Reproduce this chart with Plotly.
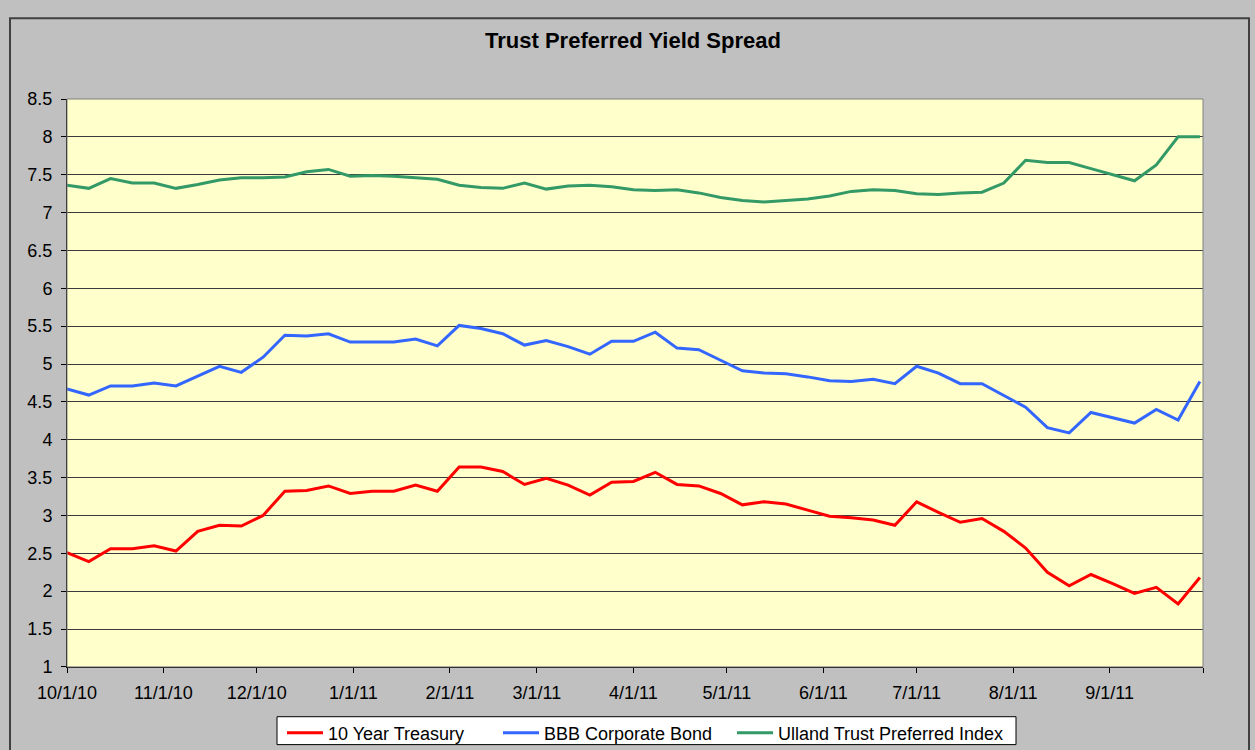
import pandas as pd
import plotly.graph_objects as go

dates = pd.date_range(start="2010-10-01", periods=53, freq="7D")

treasury = [2.51, 2.39, 2.56, 2.56, 2.60, 2.53, 2.79, 2.87, 2.86, 3.00,
            3.32, 3.33, 3.39, 3.29, 3.32, 3.32, 3.40, 3.32, 3.64, 3.64,
            3.58, 3.41, 3.49, 3.40, 3.27, 3.44, 3.45, 3.57, 3.41, 3.39,
            3.29, 3.14, 3.18, 3.15, 3.07, 2.99, 2.97, 2.94, 2.87, 3.18,
            3.04, 2.91, 2.96, 2.79, 2.57, 2.25, 2.07, 2.22, 2.10, 1.97,
            2.05, 1.83, 2.18]

bbb = [4.67, 4.59, 4.71, 4.71, 4.75, 4.71, 4.84, 4.97, 4.89, 5.09,
       5.38, 5.37, 5.40, 5.29, 5.29, 5.29, 5.33, 5.24, 5.51, 5.47,
       5.40, 5.25, 5.31, 5.23, 5.13, 5.30, 5.30, 5.42, 5.21, 5.19,
       5.05, 4.91, 4.88, 4.87, 4.83, 4.78, 4.77, 4.80, 4.74, 4.97,
       4.88, 4.74, 4.74, 4.59, 4.43, 4.16, 4.09, 4.36, 4.29, 4.22,
       4.40, 4.26, 4.77]

ulland = [7.36, 7.32, 7.45, 7.39, 7.39, 7.32, 7.37, 7.43, 7.46, 7.46,
          7.47, 7.54, 7.57, 7.48, 7.49, 7.48, 7.46, 7.44, 7.36, 7.33,
          7.32, 7.39, 7.31, 7.35, 7.36, 7.34, 7.30, 7.29, 7.30, 7.26,
          7.20, 7.16, 7.14, 7.16, 7.18, 7.22, 7.28, 7.30, 7.29, 7.25,
          7.24, 7.26, 7.27, 7.39, 7.69, 7.66, 7.66, 7.58, 7.50, 7.42,
          7.63, 8.00, 8.00]

tick_dates = ["2010-10-01", "2010-11-01", "2010-12-01", "2011-01-01", "2011-02-01",
              "2011-03-01", "2011-04-01", "2011-05-01", "2011-06-01", "2011-07-01",
              "2011-08-01", "2011-09-01", "2011-10-01"]
tick_labels = ["10/1/10", "11/1/10", "12/1/10", "1/1/11", "2/1/11", "3/1/11",
               "4/1/11", "5/1/11", "6/1/11", "7/1/11", "8/1/11", "9/1/11", ""]

series = [
    ("10 Year Treasury", treasury, "#FF0000"),
    ("BBB Corporate Bond", bbb, "#3366FF"),
    ("Ulland Trust Preferred Index", ulland, "#339966"),
]

W, H = 1255, 750
L, R, T, B = 67, 1203, 99, 669
pw, ph = R - L, B - T

def px(x):
    return (x - L) / pw

def py(y):
    return (B - y) / ph

font = "Arial, 'Liberation Sans', sans-serif"
legend_names = ["legend", "legend2", "legend3"]
legend_x = [282, 498, 732]

fig = go.Figure()
for (name, vals, color), lg in zip(series, legend_names):
    fig.add_trace(go.Scatter(x=dates, y=vals, mode="lines", name=name, legend=lg,
                             line=dict(color=color, width=3)))

legend_common = dict(orientation="h", xref="container", yref="container",
                     yanchor="middle", y=1 - 733 / H, xanchor="left",
                     bgcolor="rgba(0,0,0,0)", borderwidth=0,
                     font=dict(size=18, family=font, color="#000000"), itemwidth=36)

layout_legends = {}
for lg, lx in zip(legend_names, legend_x):
    layout_legends[lg] = dict(legend_common, x=lx / W)

fig.update_layout(
    width=W, height=H,
    margin=dict(l=L, r=W - R, t=T, b=H - B, pad=0),
    paper_bgcolor="#C0C0C0",
    plot_bgcolor="#FFFFCC",
    font=dict(family=font, size=18, color="#000000"),
    title=dict(text="<b>Trust Preferred Yield Spread</b>", x=px(633), xref="paper",
               xanchor="center", y=1 - 40 / H, yref="container", yanchor="middle",
               font=dict(size=22, family=font, color="#000000")),
    showlegend=True,
    xaxis=dict(type="date", range=["2010-10-01", "2011-10-01"],
               tickvals=tick_dates, ticktext=tick_labels,
               showgrid=False, ticks="outside", ticklen=5, tickcolor="#000000",
               showline=True, linecolor="#000000", linewidth=1, mirror=False,
               ticklabelstandoff=4,
               tickfont=dict(size=18, family=font, color="#000000"), zeroline=False),
    yaxis=dict(range=[1, 8.5], dtick=0.5, tick0=1,
               showgrid=True, gridcolor="#3A3A3A", gridwidth=1,
               ticks="outside", ticklen=5, tickcolor="#000000",
               showline=True, linecolor="#000000", linewidth=1,
               ticklabelstandoff=5,
               tickfont=dict(size=18, family=font, color="#000000"), zeroline=False),
    shapes=[
        dict(type="rect", xref="paper", yref="paper", x0=0, x1=1, y0=0, y1=1,
             line=dict(color="#808080", width=1), fillcolor="rgba(0,0,0,0)", layer="above"),
        dict(type="rect", xref="paper", yref="paper",
             x0=px(10), x1=px(1249), y0=py(820), y1=py(18),
             line=dict(color="#404040", width=2), fillcolor="rgba(0,0,0,0)", layer="below"),
        dict(type="rect", xref="paper", yref="paper",
             x0=px(277), x1=px(1016), y0=py(747), y1=py(719),
             line=dict(color="#000000", width=1), fillcolor="#FFFFFF", layer="below"),
    ],
    **layout_legends,
)
fig.update_xaxes(layer="above traces")
fig.update_yaxes(layer="above traces")

post = ("document.body.style.margin='0';document.body.style.overflow='hidden';"
        "document.body.style.background='#C0C0C0';")

fig.write_html("out.html", config={"responsive": False, "displayModeBar": False},
               post_script=post)
